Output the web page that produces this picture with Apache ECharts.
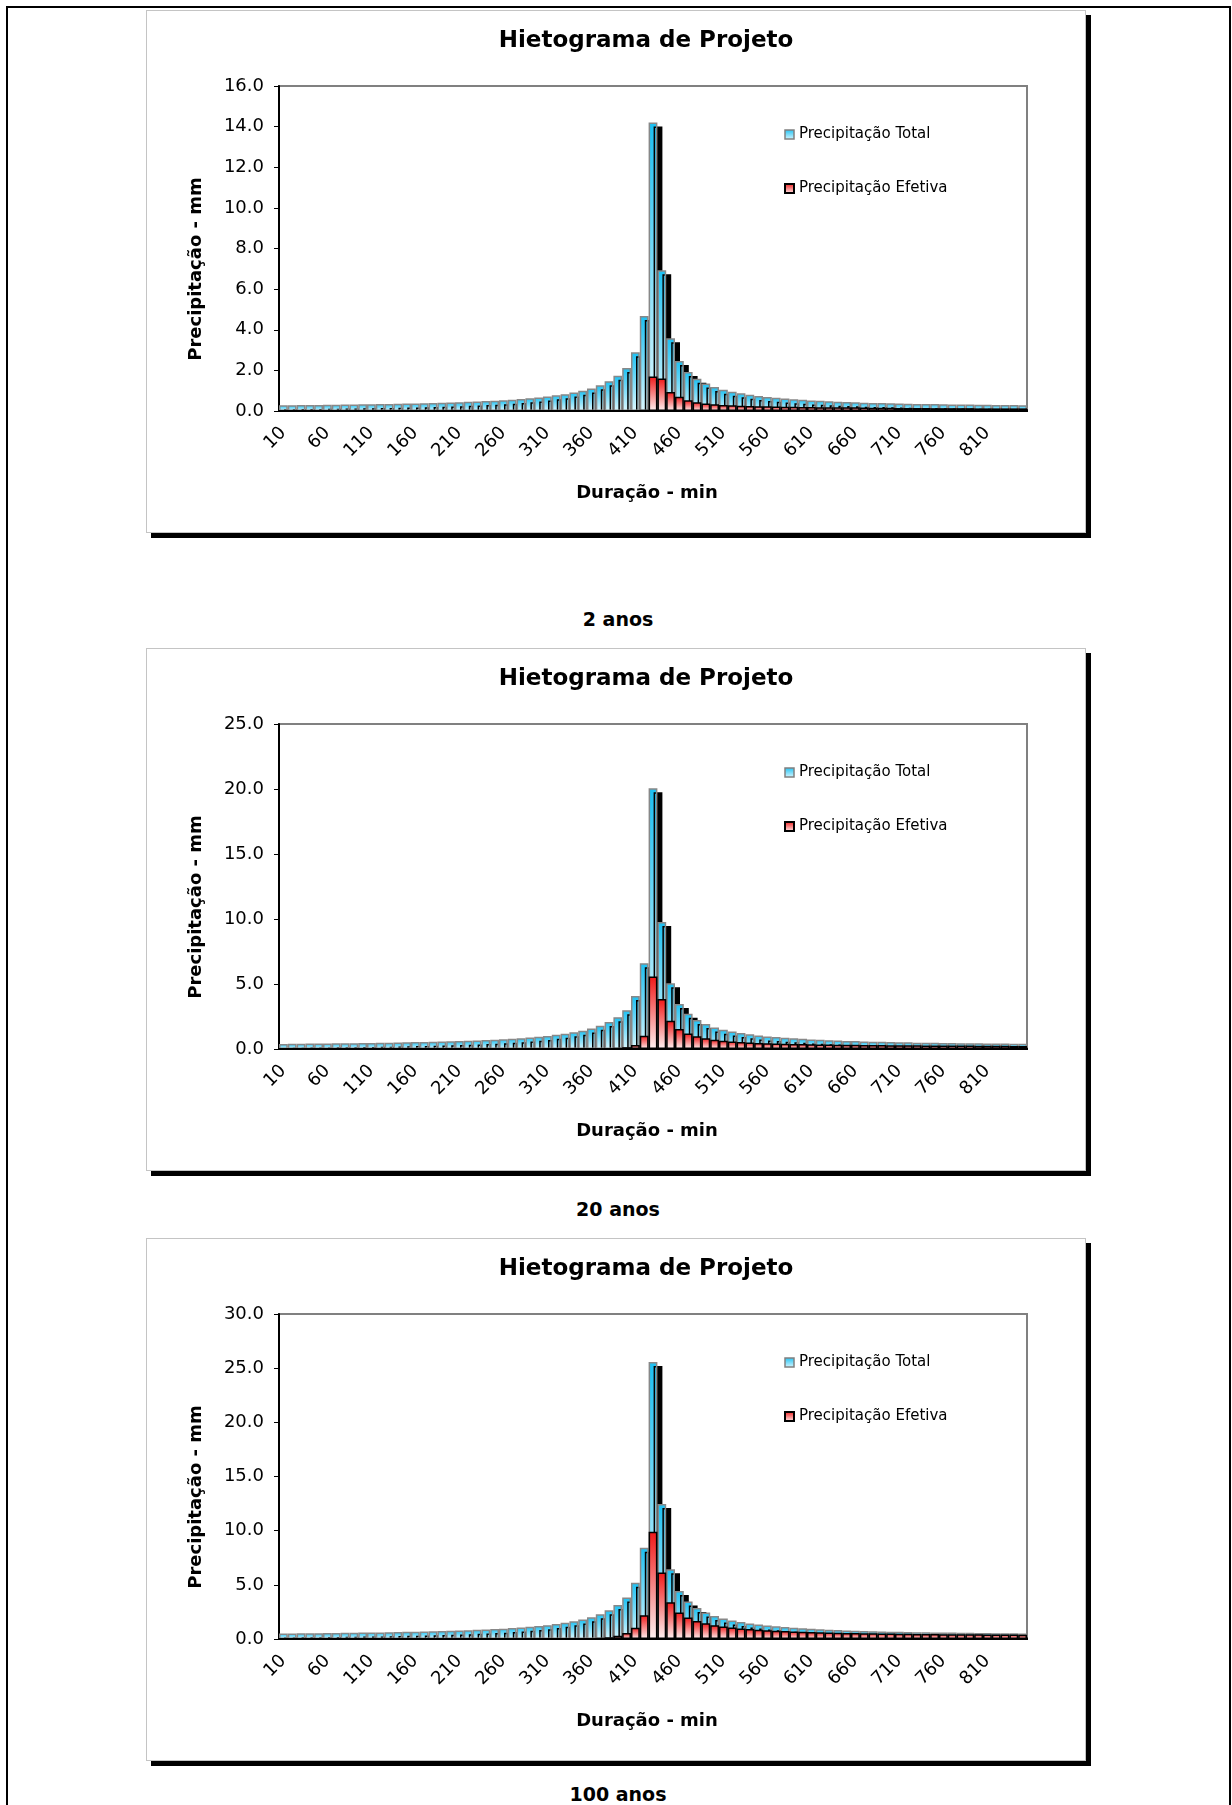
<!DOCTYPE html>
<html>
<head>
<meta charset="utf-8">
<script src="https://cdn.jsdelivr.net/npm/echarts@6/dist/echarts.min.js"></script>
<style>
  body { margin: 0; background: #fff; }
  #pagina { position: relative; width: 1232px; height: 1805px; overflow: hidden; }
  #moldura { position: absolute; left: 6px; top: 6px; width: 1221px; height: 1830px; border: 2px solid #000; }
  .caixa { position: absolute; left: 146px; width: 940px; height: 523px; box-sizing: border-box;
           border: 1px solid #c4c4c4; box-shadow: 5px 5px 0 #000; background: #fff; }
  .grafico { position: absolute; left: -1px; top: -1px; width: 940px; height: 523px; }
  .rotulo { position: absolute; left: 0; width: 1236px; text-align: center; line-height: 22px;
            font: bold 19px "DejaVu Sans"; color: #000; }
</style>
</head>
<body>
<div id="pagina">
  <div id="moldura"></div>
  <div class="caixa" style="top:10px"><div class="grafico" id="g2"></div></div>
  <div class="rotulo" style="top:608px">2 anos</div>
  <div class="caixa" style="top:648px"><div class="grafico" id="g20"></div></div>
  <div class="rotulo" style="top:1198px">20 anos</div>
  <div class="caixa" style="top:1238px"><div class="grafico" id="g100"></div></div>
  <div class="rotulo" style="top:1783px">100 anos</div>
</div>
<script>
// duração (min) - categorias do eixo x
var duracao = [10,20,30,40,50,60,70,80,90,100,110,120,130,140,150,160,170,180,190,200,
  210,220,230,240,250,260,270,280,290,300,310,320,330,340,350,360,370,380,390,400,
  410,420,430,440,450,460,470,480,490,500,510,520,530,540,550,560,570,580,590,600,
  610,620,630,640,650,660,670,680,690,700,710,720,730,740,750,760,770,780,790,800,
  810,820,830,840,850];

// 2 anos
var total2 = [0.28,0.285,0.29,0.295,0.30,0.305,0.31,0.315,0.32,0.33,
  0.335,0.34,0.35,0.355,0.365,0.375,0.385,0.395,0.405,0.42,
  0.435,0.45,0.47,0.49,0.51,0.53,0.56,0.59,0.63,0.67,
  0.71,0.77,0.83,0.91,1.00,1.11,1.27,1.47,1.74,2.12,
  2.89,4.68,14.2,6.93,3.58,2.46,1.92,1.59,1.36,1.18,
  1.05,0.95,0.87,0.80,0.74,0.69,0.65,0.61,0.58,0.55,
  0.52,0.50,0.48,0.46,0.44,0.43,0.41,0.40,0.39,0.38,
  0.37,0.36,0.35,0.345,0.34,0.33,0.325,0.32,0.315,0.31,
  0.305,0.30,0.295,0.29,0.285];
var efetiva2 = [0,0,0,0,0,0,0,0,0,0,
  0,0,0,0,0,0,0,0,0,0,
  0,0,0,0,0,0,0,0,0,0,
  0,0,0,0,0,0,0,0,0,0,
  0,0.04,1.70,1.60,0.93,0.70,0.53,0.43,0.37,0.33,
  0.30,0.28,0.26,0.25,0.24,0.23,0.22,0.21,0.21,0.20,
  0.20,0.19,0.19,0.18,0.18,0.18,0.17,0.16,0.16,0.16,
  0.15,0.15,0.15,0.15,0.14,0.14,0.14,0.14,0.14,0.13,
  0.13,0.13,0.13,0.13,0.13];

// 20 anos
var total20 = [0.39,0.40,0.41,0.42,0.42,0.43,0.44,0.44,0.45,0.47,
  0.47,0.48,0.49,0.50,0.51,0.53,0.54,0.56,0.57,0.59,
  0.61,0.63,0.66,0.69,0.72,0.75,0.79,0.83,0.89,0.94,
  1.00,1.09,1.17,1.28,1.41,1.57,1.79,2.07,2.45,2.99,
  4.07,6.60,20.05,9.77,5.05,3.47,2.71,2.24,1.92,1.66,
  1.48,1.34,1.23,1.13,1.04,0.97,0.92,0.86,0.82,0.78,
  0.73,0.71,0.68,0.65,0.62,0.61,0.58,0.56,0.55,0.54,
  0.52,0.51,0.49,0.49,0.48,0.47,0.46,0.45,0.44,0.44,
  0.43,0.42,0.42,0.41,0.40];
var efetiva20 = [0,0,0,0,0,0,0,0,0,0,
  0,0,0,0,0,0,0,0,0,0,
  0,0,0,0,0,0,0,0,0,0,
  0,0,0,0,0,0,0,0.02,0.06,0.14,
  0.30,1.02,5.57,3.84,2.17,1.53,1.20,0.98,0.83,0.72,
  0.64,0.58,0.54,0.50,0.47,0.45,0.43,0.41,0.39,0.38,
  0.36,0.35,0.34,0.33,0.32,0.32,0.31,0.30,0.30,0.29,
  0.29,0.28,0.28,0.27,0.27,0.27,0.26,0.26,0.26,0.25,
  0.25,0.25,0.25,0.24,0.24];

// 100 anos
var total100 = [0.50,0.51,0.52,0.53,0.54,0.55,0.56,0.57,0.58,0.59,
  0.60,0.61,0.63,0.64,0.66,0.68,0.69,0.71,0.73,0.76,
  0.78,0.81,0.85,0.88,0.92,0.95,1.01,1.06,1.13,1.21,
  1.28,1.39,1.49,1.64,1.80,2.00,2.29,2.65,3.13,3.82,
  5.20,8.42,25.56,12.47,6.44,4.43,3.46,2.86,2.45,2.12,
  1.89,1.71,1.57,1.44,1.33,1.24,1.17,1.10,1.04,0.99,
  0.94,0.90,0.86,0.83,0.79,0.77,0.74,0.72,0.70,0.68,
  0.67,0.65,0.63,0.62,0.61,0.59,0.59,0.58,0.57,0.56,
  0.55,0.54,0.53,0.52,0.51];
var efetiva100 = [0,0,0,0,0,0,0,0,0,0,
  0,0,0,0,0,0,0,0,0,0,
  0,0,0,0,0,0,0,0,0,0,
  0,0,0,0,0.02,0.05,0.09,0.16,0.30,0.55,
  1.05,2.20,9.90,6.15,3.40,2.45,1.98,1.66,1.45,1.28,
  1.16,1.06,0.98,0.92,0.86,0.81,0.77,0.73,0.70,0.67,
  0.64,0.62,0.60,0.58,0.56,0.55,0.53,0.52,0.51,0.50,
  0.49,0.48,0.47,0.46,0.46,0.45,0.44,0.44,0.43,0.43,
  0.42,0.42,0.41,0.41,0.40];

var fonte = '"DejaVu Sans"';

function montaGrafico(id, total, efetiva, maxY, passo) {
  var myChart = echarts.init(document.getElementById(id));
  var option = {
    animation: false,
    textStyle: { fontFamily: fonte },
    title: {
      text: 'Hietograma de Projeto',
      left: 500, top: 20, textAlign: 'center', padding: 0,
      textStyle: { fontSize: 23, fontWeight: 'bold', color: '#000', fontFamily: fonte }
    },
    legend: {
      orient: 'vertical', left: 638, top: 117, padding: 0,
      icon: 'rect', itemWidth: 9, itemHeight: 9, itemGap: 39,
      textStyle: { fontSize: 15, color: '#000', fontFamily: fonte },
      data: [
        { name: 'Precipitação Total', itemStyle: { borderColor: '#808080', borderWidth: 1.5 } },
        { name: 'Precipitação Efetiva', itemStyle: { borderColor: '#000', borderWidth: 2 } }
      ]
    },
    grid: { left: 133, right: 59, top: 76, height: 325, show: true, borderColor: '#808080', borderWidth: 2 },
    xAxis: {
      type: 'category', data: duracao, z: 10,
      axisLine: { lineStyle: { color: '#000', width: 2 } },
      axisTick: { interval: 0, length: 5, lineStyle: { color: '#000' } },
      axisLabel: { interval: 4, rotate: 45, margin: 19, fontSize: 18, color: '#000', fontFamily: fonte }
    },
    yAxis: {
      type: 'value', min: 0, max: maxY, interval: passo,
      splitLine: { show: false },
      axisLine: { show: true, lineStyle: { color: '#000', width: 2 } },
      axisTick: { show: true, length: 5, lineStyle: { color: '#000' } },
      axisLabel: { margin: 15, fontSize: 18, color: '#000', fontFamily: fonte,
        formatter: function (v) { return v.toFixed(1); } }
    },
    graphic: [
      // esconde a sombra das barras fora da área do gráfico
      { type: 'rect', z: 5, shape: { x: 120, y: 402, width: 780, height: 7 }, style: { fill: '#fff' } },
      { type: 'rect', z: 5, shape: { x: 882, y: 70, width: 10, height: 340 }, style: { fill: '#fff' } },
      { type: 'text', x: 50, y: 259, rotation: Math.PI / 2, z: 6,
        style: { text: 'Precipitação - mm', font: 'bold 18px ' + fonte, fill: '#000',
          align: 'center', verticalAlign: 'middle', textAlign: 'center', textVerticalAlign: 'middle' } },
      { type: 'text', x: 501, y: 483, z: 6,
        style: { text: 'Duração - min', font: 'bold 18px ' + fonte, fill: '#000',
          align: 'center', verticalAlign: 'middle', textAlign: 'center', textVerticalAlign: 'middle' } }
    ],
    series: [
      {
        name: 'Precipitação Total', type: 'bar', data: total,
        barCategoryGap: '0%', barGap: '-100%',
        itemStyle: {
          color: new echarts.graphic.LinearGradient(0, 0, 0, 1, [
            { offset: 0, color: '#1cc0f2' }, { offset: 1, color: '#dcf8ff' }]),
          borderColor: '#888888', borderWidth: 1.5,
          shadowColor: '#000', shadowBlur: 0, shadowOffsetX: 5, shadowOffsetY: 4
        }
      },
      {
        name: 'Precipitação Efetiva', type: 'bar', data: efetiva,
        barCategoryGap: '0%', barGap: '-100%',
        itemStyle: {
          color: new echarts.graphic.LinearGradient(0, 0, 0, 1, [
            { offset: 0, color: '#f01818' }, { offset: 1, color: '#fff2f2' }]),
          borderColor: '#000', borderWidth: 1.5
        }
      }
    ]
  };
  myChart.setOption(option);
  return myChart;
}

montaGrafico('g2', total2, efetiva2, 16, 2);
montaGrafico('g20', total20, efetiva20, 25, 5);
montaGrafico('g100', total100, efetiva100, 30, 5);
</script>
</body>
</html>
